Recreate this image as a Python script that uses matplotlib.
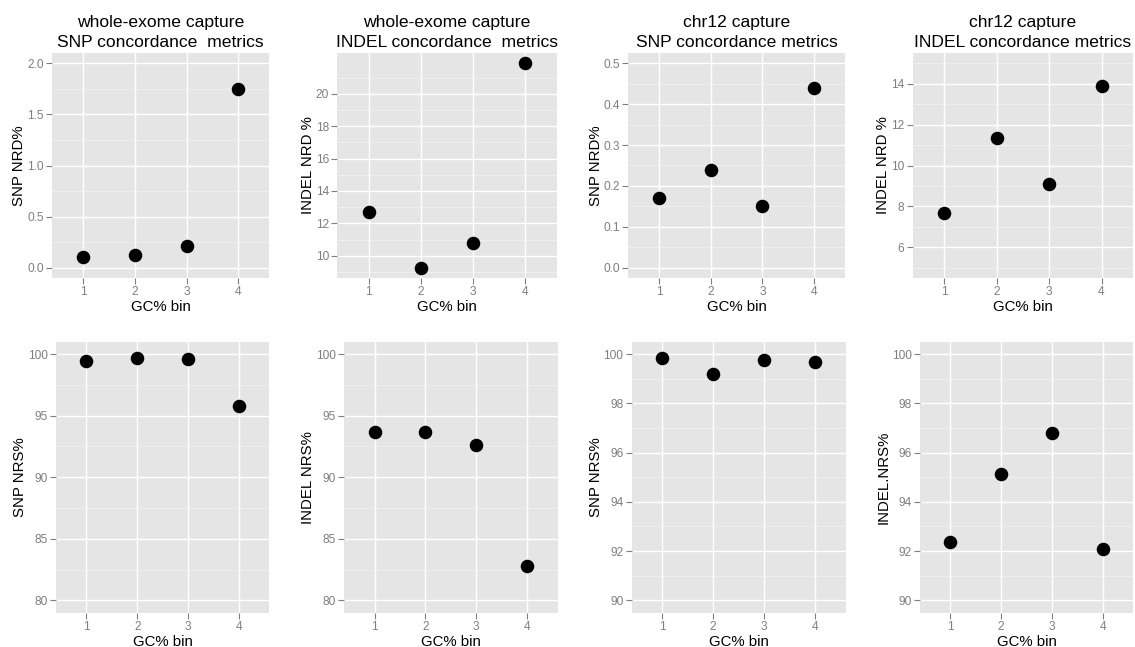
import matplotlib
matplotlib.use("Agg")
import matplotlib.pyplot as plt
import numpy as np

plt.rcParams['font.family'] = ['Liberation Sans', 'DejaVu Sans']

# ---- data ----
gc_bins = [1, 2, 3, 4]

wes_snp_nrd = [0.11, 0.12, 0.21, 1.75]
wes_indel_nrd = [12.68, 9.25, 10.8, 21.9]
chr12_snp_nrd = [0.17, 0.24, 0.15, 0.44]
chr12_indel_nrd = [7.67, 11.32, 9.09, 13.88]

wes_snp_nrs = [99.46, 99.67, 99.57, 95.75]
wes_indel_nrs = [93.66, 93.66, 92.6, 82.76]
chr12_snp_nrs = [99.82, 99.17, 99.77, 99.66]
chr12_indel_nrs = [92.38, 95.14, 96.79, 92.09]

titles = [
    "whole-exome capture\nSNP concordance  metrics",
    "whole-exome capture\nINDEL concordance  metrics",
    "chr12 capture\nSNP concordance metrics",
    "chr12 capture\nINDEL concordance metrics",
]
ylabels_top = ["SNP NRD%", "INDEL NRD %", "SNP NRD%", "INDEL NRD %"]
ylabels_bot = ["SNP NRS%", "INDEL NRS%", "SNP NRS%", "INDEL.NRS%"]
xlabel = "GC% bin"

W, H = 1135, 647
fig = plt.figure(figsize=(W / 100, H / 100), dpi=100)
fig.patch.set_facecolor("white")

# panel boxes in pixels: (left, right, top, bottom)
top_boxes = [(52, 269.3), (337.3, 556.7), (628.3, 845), (912.7, 1133)]
bot_boxes = [(56, 269.3), (344, 557.7), (631.7, 845.7), (920, 1133)]
row_top = (53, 278)
row_bot = (341.7, 612.7)


def make_ax(lr, tb):
    l, r = lr
    t, b = tb
    return fig.add_axes([l / W, 1 - b / H, (r - l) / W, (b - t) / H])


def style(ax, yvals, ylim, major, minor, ylabel, title=None, fmt=None):
    ax.set_facecolor("#E5E5E5")
    for s in ax.spines.values():
        s.set_visible(False)
    ax.set_xlim(0.4, 4.6)
    ax.set_ylim(*ylim)
    ax.set_xticks(gc_bins)
    ax.set_xticklabels([str(v) for v in gc_bins])
    ax.set_yticks(major)
    if fmt:
        ax.set_yticklabels([fmt.format(v) for v in major])
    ax.set_yticks(minor, minor=True)
    ax.tick_params(axis="y", which="minor", length=0)
    ax.tick_params(which="major", length=4, width=0.8, color="#7F7F7F",
                   labelcolor="#7F7F7F", labelsize=8.6, pad=2)
    ax.grid(which="minor", axis="y", color="#F2F2F2", linewidth=0.6)
    ax.grid(which="major", color="white", linewidth=1.0)
    ax.set_axisbelow(True)
    ax.scatter(gc_bins, yvals, s=95, color="black", zorder=3, linewidths=0)
    ax.set_xlabel(xlabel, fontsize=10.8, labelpad=1.5)
    ax.set_ylabel(ylabel, fontsize=10.8, labelpad=0.5)
    if title:
        ax.set_title(title, fontsize=12.6, pad=4, linespacing=1.45)


top_data = [wes_snp_nrd, wes_indel_nrd, chr12_snp_nrd, chr12_indel_nrd]
bot_data = [wes_snp_nrs, wes_indel_nrs, chr12_snp_nrs, chr12_indel_nrs]

top_specs = [
    ((-0.1, 2.1), np.arange(0, 2.01, 0.5), np.arange(0.25, 2.0, 0.5), "{:.1f}"),
    ((8.62, 22.53), np.arange(10, 20.1, 2), np.arange(9, 22, 2), "{:.0f}"),
    ((-0.025, 0.525), np.arange(0, 0.501, 0.1), np.arange(0.05, 0.5, 0.1), "{:.1f}"),
    ((4.5, 15.5), np.arange(6, 14.1, 2), np.arange(5, 15.1, 2), "{:.0f}"),
]
bot_specs = [
    ((79, 101), np.arange(80, 100.1, 5), np.arange(82.5, 100, 5), "{:.0f}"),
    ((79, 101), np.arange(80, 100.1, 5), np.arange(82.5, 100, 5), "{:.0f}"),
    ((89.5, 100.5), np.arange(90, 100.1, 2), np.arange(91, 100, 2), "{:.0f}"),
    ((89.5, 100.5), np.arange(90, 100.1, 2), np.arange(91, 100, 2), "{:.0f}"),
]

for i in range(4):
    ax = make_ax(top_boxes[i], row_top)
    ylim, major, minor, fmt = top_specs[i]
    style(ax, top_data[i], ylim, major, minor, ylabels_top[i], titles[i], fmt)
    ax = make_ax(bot_boxes[i], row_bot)
    ylim, major, minor, fmt = bot_specs[i]
    style(ax, bot_data[i], ylim, major, minor, ylabels_bot[i], None, fmt)

fig.savefig("out.png", dpi=100)
